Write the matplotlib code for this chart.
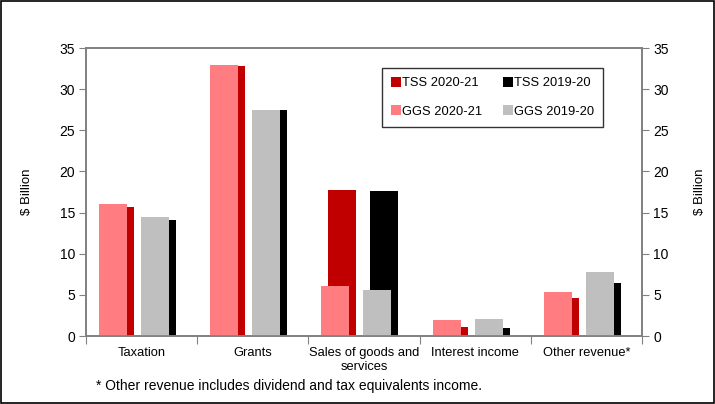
import matplotlib
matplotlib.use("Agg")
import matplotlib.pyplot as plt
from matplotlib.patches import Rectangle
import numpy as np

plt.rcParams['font.family'] = ['Liberation Sans', 'DejaVu Sans']

categories = ["Taxation", "Grants", "Sales of goods and\nservices", "Interest income", "Other revenue*"]
tss_2021 = [15.7, 32.8, 17.7, 1.15, 4.6]
tss_2020 = [14.05, 27.5, 17.6, 0.95, 6.4]
ggs_2021 = [16.1, 32.9, 6.05, 1.9, 5.4]
ggs_2020 = [14.45, 27.5, 5.55, 2.05, 7.8]
yticks = [0, 5, 10, 15, 20, 25, 30, 35]

c_tss21 = "#C00000"
c_tss20 = "#000000"
c_ggs21 = "#FF7C80"
c_ggs20 = "#BFBFBF"
spine_c = "#808080"

fig = plt.figure(figsize=(7.15, 4.04), dpi=100)
ax = fig.add_axes([86/715, 68/404, 556/715, 288/404])
x = np.arange(len(categories))
w = 0.252

b1 = ax.bar(x - 0.194, tss_2021, w, color=c_tss21, zorder=2, label="TSS 2020-21")
b2 = ax.bar(x - 0.257, ggs_2021, w, color=c_ggs21, zorder=3, label="GGS 2020-21")
b3 = ax.bar(x + 0.183, tss_2020, w, color=c_tss20, zorder=2, label="TSS 2019-20")
b4 = ax.bar(x + 0.120, ggs_2020, w, color=c_ggs20, zorder=3, label="GGS 2019-20")

ax.set_xlim(-0.5, len(categories) - 0.5)
ax.set_ylim(0, 35)
ax.set_yticks(yticks)
ax.set_xticks(np.arange(-0.5, len(categories), 1.0))
ax.set_xticklabels([])
ax.set_xticks(x, minor=True)
ax.set_xticklabels(categories, minor=True, fontsize=9.3, linespacing=1.2)
ax.tick_params(axis='x', which='minor', length=0, pad=8)
ax.tick_params(axis='x', which='major', length=6, color=spine_c, direction='out')
ax.tick_params(axis='y', length=5, color=spine_c, labelsize=10, pad=3)
for s in ax.spines.values():
    s.set_color(spine_c)
    s.set_linewidth(1.2)
ax.set_ylabel("$ Billion", fontsize=9.5, labelpad=19)

ax2 = ax.twinx()
ax2.set_ylim(0, 35)
ax2.set_yticks(yticks)
ax2.tick_params(axis='y', length=5, color=spine_c, labelsize=10, pad=3)
for s in ax2.spines.values():
    s.set_color(spine_c)
    s.set_linewidth(1.2)
ax2.set_ylabel("$ Billion", fontsize=9.5, labelpad=18)

leg = ax.legend(handles=[b1, b2, b3, b4], ncol=2, loc='upper left',
                bbox_to_anchor=((382 - 86) / 556, (336 - 68) / 288),
                borderaxespad=0,
                frameon=True, fancybox=False, edgecolor='black', fontsize=9.3,
                handlelength=0.75, handleheight=0.75, handletextpad=0.1,
                columnspacing=1.6, labelspacing=1.25, borderpad=0.7)
leg.get_frame().set_linewidth(1.0)
leg.set_zorder(5)

fig.text(96/715, 1 - 386/404, "* Other revenue includes dividend and tax equivalents income.",
         fontsize=10, va='center', ha='left')

fig.patches.append(Rectangle((0.001, 0.002), 0.997, 0.996, transform=fig.transFigure,
                             fill=False, edgecolor='black', linewidth=1.2))

fig.savefig("out.png", dpi=100)
